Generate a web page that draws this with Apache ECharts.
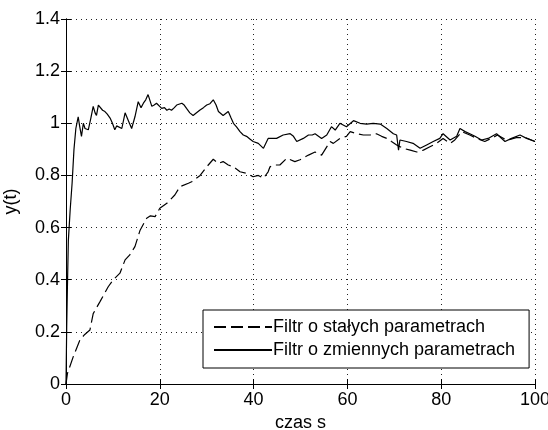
<!DOCTYPE html>
<html>
<head>
<meta charset="utf-8">
<script src="https://cdn.jsdelivr.net/npm/echarts@6/dist/echarts.min.js"></script>
<style>
html, body { margin: 0; padding: 0; background: #fff; }
#chart { width: 548px; height: 430px; }
</style>
</head>
<body>
<div id="chart"></div>
<script>
// dane
const seriesNames = ['Filtr o stałych parametrach', 'Filtr o zmiennych parametrach']

const tConst = [0, 0.3, 1.55, 3, 4, 5.1, 5.8, 7.25, 9, 10.1, 11.5, 12.6, 13.6, 14.7, 15.8, 17.2, 18, 19, 20, 21.5,
	23.2, 24.3, 26.1, 26.8, 28.6, 30, 31.4, 32.5, 33.5, 34.6, 35.7, 37.1, 38.5, 39.9, 41, 42.1, 43.1, 43.5, 44.6, 45.6,
	47.1, 48.8, 49.9, 51.7, 52, 53.1, 54.5, 56.3, 57, 58.4, 59.8, 60.6, 62, 63.4, 64.8, 66.2, 67.3, 68.4, 69.4, 70.5,
	71.9, 73.4, 74.8, 76.2, 77.6, 79, 80.4, 81.9, 82.9, 84.4, 86.1, 87.6, 89.3, 91, 92, 94, 96, 98, 100]
const yConst = [0, 0.04, 0.105, 0.17, 0.19, 0.207, 0.27, 0.316, 0.373, 0.4, 0.425, 0.476, 0.495, 0.527, 0.59, 0.636, 0.645, 0.642, 0.674, 0.693,
	0.725, 0.757, 0.77, 0.776, 0.8, 0.833, 0.862, 0.846, 0.853, 0.84, 0.833, 0.814, 0.808, 0.795, 0.8, 0.789, 0.814, 0.833, 0.84, 0.84,
	0.866, 0.853, 0.86, 0.878, 0.885, 0.89, 0.878, 0.93, 0.923, 0.942, 0.95, 0.968, 0.96, 0.955, 0.955, 0.96, 0.95, 0.942, 0.93, 0.917,
	0.904, 0.897, 0.89, 0.897, 0.91, 0.923, 0.942, 0.923, 0.936, 0.968, 0.955, 0.942, 0.93, 0.945, 0.955, 0.935, 0.945, 0.945, 0.93]

const tVar = [0, 0.15, 0.3, 0.5, 0.9, 1.3, 1.7, 2.1, 2.6, 2.9, 3.3, 3.7, 4.05, 4.75, 5.3, 5.8, 6.2, 6.5, 6.9, 7.25,
	7.8, 8.3, 8.8, 9.4, 9.9, 10.4, 10.8, 11.2, 11.9, 12.6, 13.3, 14, 14.7, 15.4, 16, 16.5, 17, 17.5, 18.3, 18.8,
	19.3, 20.4, 21, 21.5, 22, 22.5, 23.1, 23.6, 24.7, 25.2, 25.7, 26.4, 27.1, 28.5, 29.3, 30, 30.7, 31.4, 32, 32.5,
	33.5, 34.6, 35.2, 35.7, 36.4, 37.1, 37.8, 38.5, 39.2, 39.9, 41, 42.1, 43.1, 43.5, 44.9, 46.3, 47.8, 48.5, 49.2, 50.6,
	51.7, 52.5, 53.1, 54.5, 55.6, 56.6, 57.4, 58.4, 59.8, 61.3, 62.7, 64.1, 65.5, 67, 68.4, 69.8, 70.5, 70.9, 71.2, 72.6,
	74, 75.5, 76.9, 78.3, 79.7, 80.4, 81.9, 83.3, 84, 85.1, 86.1, 87.2, 88.6, 90, 91.8, 93.6, 95, 96.8, 98.2, 100]
const yVar = [0, 0.22, 0.37, 0.55, 0.67, 0.77, 0.9, 0.98, 1.025, 0.99, 0.95, 1.0, 0.98, 0.975, 1.02, 1.065, 1.04, 1.03, 1.07, 1.075,
	1.05, 1.045, 1.035, 1.02, 1.0, 0.975, 0.99, 0.987, 0.98, 1.04, 1.01, 0.98, 1.025, 1.083, 1.06, 1.077, 1.09, 1.11, 1.065, 1.07,
	1.077, 1.057, 1.06, 1.05, 1.055, 1.05, 1.06, 1.07, 1.077, 1.07, 1.057, 1.04, 1.03, 1.05, 1.06, 1.07, 1.075, 1.09, 1.07, 1.045,
	1.03, 1.045, 1.02, 1.0, 0.985, 0.968, 0.955, 0.95, 0.94, 0.93, 0.923, 0.904, 0.942, 0.936, 0.942, 0.955, 0.96, 0.95, 0.93, 0.942,
	0.955, 0.955, 0.96, 0.942, 0.955, 0.987, 0.974, 1.0, 0.987, 1.01, 1.0, 0.997, 1.0, 0.997, 0.98, 0.96, 0.955, 0.897, 0.936, 0.93,
	0.923, 0.904, 0.917, 0.93, 0.942, 0.96, 0.936, 0.95, 0.98, 0.968, 0.96, 0.95, 0.936, 0.942, 0.96, 0.93, 0.942, 0.955, 0.942, 0.93]

const xMin = 0, xMax = 100, xStep = 20
const yMin = 0, yMax = 1.4, yStep = 0.2

const font = "'Liberation Sans', Arial, sans-serif"
const frameAxis = {
	axisLine: { show: true, lineStyle: { color: '#000', width: 1 } },
	axisTick: { show: true, inside: true, length: 5, lineStyle: { color: '#000' } },
	axisLabel: { show: false },
	splitLine: { show: false }
}

const chart = echarts.init(document.getElementById('chart'))
chart.setOption({
	animation: false,
	backgroundColor: '#fff',
	grid: { left: 66, top: 19, right: 13, bottom: 46, containLabel: false, outerBoundsMode: 'none' },
	legend: {
		orient: 'vertical',
		left: 203,
		top: 310,
		padding: [8, 14, 9, 10],
		itemWidth: 58,
		itemHeight: 10,
		itemGap: 5,
		backgroundColor: '#fff',
		borderColor: '#000',
		borderWidth: 1,
		borderRadius: 0,
		selectedMode: false,
		itemStyle: { opacity: 0 },
		textStyle: { fontFamily: font, fontSize: 18, color: '#000', padding: [0, 0, 0, -4] },
		data: seriesNames
	},
	xAxis: [
		{
			type: 'value', min: xMin, max: xMax, interval: xStep,
			name: 'czas s', nameLocation: 'middle', nameGap: 25,
			nameTextStyle: { fontFamily: font, fontSize: 18, color: '#000' },
			axisLine: { show: true, lineStyle: { color: '#000', width: 1 } },
			axisTick: { show: true, inside: true, length: 5, lineStyle: { color: '#000' } },
			axisLabel: { fontFamily: font, fontSize: 18, color: '#000', margin: 7 },
			splitLine: { show: true, lineStyle: { color: '#222', type: [1, 4], width: 1 } }
		},
		Object.assign({ type: 'value', position: 'top', min: xMin, max: xMax, interval: xStep }, frameAxis)
	],
	yAxis: [
		{
			type: 'value', min: yMin, max: yMax, interval: yStep,
			name: 'y(t)', nameLocation: 'middle', nameGap: 46,
			nameTextStyle: { fontFamily: font, fontSize: 18, color: '#000' },
			axisLine: { show: true, lineStyle: { color: '#000', width: 1 } },
			axisTick: { show: true, inside: true, length: 5, lineStyle: { color: '#000' } },
			axisLabel: { fontFamily: font, fontSize: 18, color: '#000', margin: 6, formatter: v => String(+v.toFixed(1)) },
			splitLine: { show: true, lineStyle: { color: '#222', type: [1, 4], width: 1 } }
		},
		Object.assign({ type: 'value', position: 'right', min: yMin, max: yMax, interval: yStep }, frameAxis)
	],
	series: [
		{
			name: seriesNames[0],
			type: 'line',
			symbol: 'none',
			color: '#000',
			lineStyle: { color: '#000', width: 1.2, type: [12, 5] },
			data: tConst.map((t, i) => [t, yConst[i]])
		},
		{
			name: seriesNames[1],
			type: 'line',
			symbol: 'none',
			color: '#000',
			lineStyle: { color: '#000', width: 1.2, type: 'solid' },
			data: tVar.map((t, i) => [t, yVar[i]])
		}
	]
})
</script>
</body>
</html>
